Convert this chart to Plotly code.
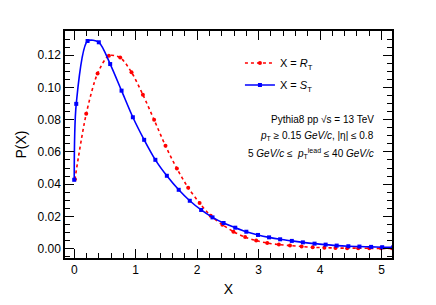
import plotly.graph_objects as go

# S_T distribution (blue)
st_x = [0.0, 0.033, 0.217, 0.40, 0.585, 0.77, 0.954, 1.138, 1.32, 1.507, 1.70, 1.88,
        2.065, 2.25, 2.43, 2.62, 2.80, 2.99, 3.17, 3.35, 3.54, 3.72, 3.91, 4.09,
        4.27, 4.46, 4.64, 4.83, 5.01, 5.19]
st_y = [0.0427, 0.0898, 0.1288, 0.128, 0.1145, 0.098, 0.0815, 0.0675, 0.0551, 0.0452,
        0.0365, 0.0297, 0.024, 0.0194, 0.0159, 0.013, 0.0105, 0.0085, 0.007, 0.0058,
        0.0048, 0.0039, 0.0031, 0.0025, 0.0019, 0.0015, 0.0013, 0.0011, 0.0009, 0.0008]

# R_T distribution (red)
rt_x = [0.011, 0.195, 0.38, 0.564, 0.748, 0.932, 1.117, 1.30, 1.485, 1.67, 1.854,
        2.04, 2.22, 2.41, 2.59, 2.78, 2.96, 3.14, 3.33, 3.51, 3.70, 3.88, 4.07,
        4.25, 4.44, 4.62, 4.80, 4.99, 5.17]
rt_y = [0.043, 0.0836, 0.1087, 0.1197, 0.1185, 0.1094, 0.0955, 0.0799, 0.0638, 0.0497,
        0.0378, 0.0283, 0.0204, 0.0149, 0.0105, 0.0072, 0.005, 0.0035, 0.0025, 0.0019,
        0.0013, 0.0008, 0.0006, 0.0004, 0.0003, 0.0003, 0.0002, 0.0002, 0.0002]

FONT = "Liberation Sans, Arial, sans-serif"

fig = go.Figure()
fig.add_trace(go.Scatter(
    x=rt_x, y=rt_y, mode="lines+markers", name="X = <i>R</i><sub>T</sub>",
    line=dict(color="#ff0000", width=1.6, dash="dot", shape="spline", smoothing=0.8),
    marker=dict(symbol="circle", size=4, color="#ff0000"),
    legend="legend", showlegend=True, cliponaxis=True))
fig.add_trace(go.Scatter(
    x=st_x, y=st_y, mode="lines+markers", name="X = <i>S</i><sub>T</sub>",
    line=dict(color="#0000ff", width=1.6, shape="spline", smoothing=0.8),
    marker=dict(symbol="square", size=4, color="#0000ff"),
    legend="legend2", showlegend=True, cliponaxis=True))

axis_common = dict(
    showline=True, linecolor="black", linewidth=1.5, mirror="ticks",
    ticks="inside", tickcolor="black", tickwidth=1, ticklen=9,
    showgrid=False, zeroline=False, automargin=False,
    tickfont=dict(family=FONT, size=12, color="black"),
)

fig.update_xaxes(
    **axis_common, range=[-0.15, 5.17], dtick=1, tick0=0,
    minor=dict(dtick=0.2, ticks="inside", ticklen=5, tickcolor="black", showgrid=False),
    title=dict(text="X", font=dict(family=FONT, size=14, color="black"), standoff=8),
)
fig.update_yaxes(
    **axis_common, range=[-0.0058, 0.135], dtick=0.02, tick0=0, tickformat=".2f",
    minor=dict(dtick=0.005, ticks="inside", ticklen=5, tickcolor="black", showgrid=False),
    title=dict(text="P(X)", font=dict(family=FONT, size=14, color="black"), standoff=8),
)

leg_common = dict(font=dict(family=FONT, size=11, color="black"), bgcolor="rgba(0,0,0,0)",
                  xanchor="left", yanchor="middle", itemwidth=30)
fig.update_layout(
    width=436, height=305, showlegend=True,
    margin=dict(l=65, r=44, t=31, b=47, autoexpand=False),
    paper_bgcolor="white", plot_bgcolor="white",
    legend=dict(**leg_common, x=0.535, y=(258 - 63) / 227),
    legend2=dict(**leg_common, x=0.535, y=(258 - 85) / 227),
)

texts = [
    ("Pythia8 pp \u221As = 13 TeV", 119),
    ("<i>p</i><sub>T</sub> \u2265 0.15 <i>GeV/c</i>, |\u03b7| \u2264 0.8", 136),
    ("5 <i>GeV/c</i> \u2264  <i>p</i><sub>T</sub><sup>lead</sup> \u2264 40 <i>GeV/c</i>", 153),
]
for t, py in texts:
    fig.add_annotation(text=t, xref="paper", yref="paper", x=(376 - 65) / 327,
                       y=(258 - py) / 227, xanchor="right", yanchor="middle",
                       showarrow=False, font=dict(family=FONT, size=10, color="black"))

fig.write_html("out.html", config={"displayModeBar": False},
               post_script="document.body.style.margin='0px';document.body.style.overflow='hidden';")
